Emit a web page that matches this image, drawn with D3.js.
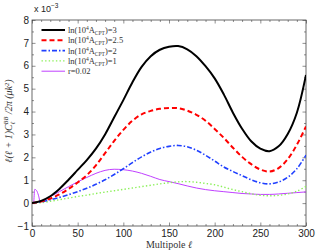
<!DOCTYPE html>
<html>
<head>
<meta charset="utf-8">
<script src="https://cdn.jsdelivr.net/npm/d3@7"></script>
<style>
body { margin: 0; background: #fff; }
.tick text { font-family: "Liberation Sans", Arial, sans-serif; font-size: 10px; fill: #222; }
.tick line { stroke: #444; stroke-width: 0.6; }
.serif { font-family: "Liberation Serif", "DejaVu Serif", serif; fill: #333; }
</style>
</head>
<body>
<div id="body"></div>
<script>
// multipole grid used by the four A_CPT curves
var ell = [0,10,20,30,40,50,60,70,80,90,100,110,120,130,140,150,160,170,180,190,200,210,220,230,240,250,260,270,280,290,300];
var cpt3 = [0,0.1,0.3,0.62,1.02,1.45,1.88,2.38,3.0,3.75,4.5,5.28,5.95,6.42,6.7,6.83,6.86,6.72,6.42,5.98,5.45,4.75,3.95,3.25,2.7,2.38,2.27,2.48,3.02,3.95,5.6];
var cpt25 = [0,0.07,0.2,0.38,0.62,0.9,1.22,1.65,2.18,2.72,3.2,3.6,3.88,4.03,4.12,4.15,4.15,4.04,3.86,3.6,3.24,2.85,2.42,2.02,1.7,1.47,1.38,1.53,1.92,2.55,3.35];
var cpt2 = [0,0.05,0.15,0.25,0.37,0.5,0.65,0.82,1.02,1.25,1.5,1.77,2.02,2.23,2.39,2.48,2.52,2.46,2.31,2.09,1.84,1.58,1.38,1.2,1.02,0.89,0.84,0.92,1.13,1.5,2.1];
var cpt1 = [0,0.02,0.08,0.15,0.22,0.29,0.35,0.42,0.48,0.54,0.6,0.66,0.72,0.78,0.84,0.89,0.93,0.94,0.91,0.86,0.8,0.7,0.59,0.5,0.41,0.34,0.32,0.34,0.4,0.52,0.73];
// tensor modes r=0.02 (with reionization bump at low l)
var rEll = [2,3,5,7,9,12,20,30,40,50,60,70,80,90,100,110,120,130,140,150,160,170,180,190,200,210,220,230,240,250,260,270,280,290,300];
var rVal = [0.05,0.6,0.55,0.35,0.07,0.1,0.28,0.5,0.72,0.93,1.12,1.3,1.43,1.48,1.46,1.4,1.3,1.17,1.03,0.94,0.85,0.75,0.66,0.59,0.54,0.5,0.46,0.42,0.4,0.38,0.38,0.4,0.43,0.46,0.49];

var xTicks = [0,50,100,150,200,250,300];
var yTicks = [-1,0,1,2,3,4,5,6,7,8];
var legendVals = ['3','2.5','2','1'];

var width = 319, height = 251;
var margins = {left: 32, top: 20, right: 13, bottom: 25};

var x = d3.scaleLinear().domain([0, 300]).range([margins.left, width - margins.right]);
var y = d3.scaleLinear().domain([-1, 8]).range([height - margins.bottom, margins.top]);

var svg = d3.select('#body').append('svg')
    .attr('width', width)
    .attr('height', height);

var xMinor = d3.range(0, 301, 10).filter(d => xTicks.indexOf(d) < 0);
var yMinor = d3.range(-1, 8.01, 0.5).filter(d => yTicks.indexOf(d) < 0);

function addAxis(axis, tx, ty) {
    var g = svg.append('g').attr('transform', `translate(${tx},${ty})`).call(axis);
    g.select('.domain').remove();
    return g;
}
var yb = y(-1), yt = y(8), xl = x(0), xr = x(300);

addAxis(d3.axisBottom(x).tickValues(xTicks).tickSize(-3.5).tickPadding(4), 0, yb);
addAxis(d3.axisBottom(x).tickValues(xMinor).tickSize(-2).tickFormat(''), 0, yb);
addAxis(d3.axisTop(x).tickValues(xTicks).tickSize(-3.5).tickFormat(''), 0, yt);
addAxis(d3.axisTop(x).tickValues(xMinor).tickSize(-2).tickFormat(''), 0, yt);
addAxis(d3.axisLeft(y).tickValues(yTicks).tickSize(-3.5).tickPadding(3).tickFormat(d => d < 0 ? '\u2212' + (-d) : d), xl, 0);
addAxis(d3.axisLeft(y).tickValues(yMinor).tickSize(-2).tickFormat(''), xl, 0);
addAxis(d3.axisRight(y).tickValues(yTicks).tickSize(-3.5).tickFormat(''), xr, 0);
addAxis(d3.axisRight(y).tickValues(yMinor).tickSize(-2).tickFormat(''), xr, 0);

svg.append('rect')
    .attr('x', xl).attr('y', yt)
    .attr('width', xr - xl).attr('height', yb - yt)
    .attr('fill', 'none').attr('stroke', '#444').attr('stroke-width', 0.8);

svg.append('defs').append('clipPath').attr('id', 'plot-clip')
    .append('rect').attr('x', xl).attr('y', yt).attr('width', xr - xl).attr('height', yb - yt);

var series = [
    {name: '3', l: ell, v: cpt3, color: '#000000', w: 2, dash: null},
    {name: '2.5', l: ell, v: cpt25, color: '#ff0000', w: 2, dash: '5,3'},
    {name: '2', l: ell, v: cpt2, color: '#2040ff', w: 1.6, dash: '5,2,1.5,2'},
    {name: '1', l: ell, v: cpt1, color: '#8cf05a', w: 1.4, dash: '1.4,2.2'},
    {name: 'r', l: rEll, v: rVal, color: '#c040ff', w: 1, dash: null}
];

var smooth = d3.line()
    .x(d => x(d[0]))
    .y(d => y(d[1]))
    .curve(d3.curveCatmullRom.alpha(0.5));
var mono = d3.line()
    .x(d => x(d[0]))
    .y(d => y(d[1]))
    .curve(d3.curveMonotoneX);

var body = svg.append('g').attr('clip-path', 'url(#plot-clip)');
series.slice().reverse().forEach(s => {
    body.append('path')
        .datum(s.l.map((d, i) => [d, s.v[i]]))
        .attr('d', s.name === 'r' ? mono : smooth)
        .attr('fill', 'none')
        .attr('stroke', s.color)
        .attr('stroke-width', s.w)
        .attr('stroke-dasharray', s.dash);
});

// legend
var legend = svg.append('g');
series.forEach((s, i) => {
    var ly = 30 + i * 10.3;
    legend.append('line')
        .attr('x1', 41.5).attr('x2', 65)
        .attr('y1', ly).attr('y2', ly)
        .attr('stroke', s.color)
        .attr('stroke-width', s.w)
        .attr('stroke-dasharray', s.dash);
    var t = legend.append('text')
        .attr('class', 'serif')
        .attr('x', 68).attr('y', ly + 3)
        .style('font-size', '8.5px');
    if(s.name === 'r') {
        t.text('r=0.02');
    } else {
        t.append('tspan').text('ln(10');
        t.append('tspan').attr('dy', -3).style('font-size', '5.5px').text('4');
        t.append('tspan').attr('dy', 3).text('A');
        t.append('tspan').attr('dy', 2).style('font-size', '5.5px').text('CPT');
        t.append('tspan').attr('dy', -2).text(')=' + legendVals[i]);
    }
});

// exponent label
var ex = svg.append('text')
    .attr('x', 34).attr('y', 12)
    .style('font-family', '"Liberation Sans", Arial, sans-serif')
    .style('font-size', '9px')
    .attr('fill', '#222');
ex.append('tspan').text('x 10');
ex.append('tspan').attr('dy', -4).style('font-size', '6.5px').text('\u22123');

// axis titles
svg.append('text')
    .attr('class', 'serif')
    .attr('x', (xl + xr) / 2).attr('y', 248)
    .attr('text-anchor', 'middle')
    .style('font-size', '10px')
    .html('Multipole <tspan font-style="italic">\u2113</tspan>');

var yl = svg.append('text')
    .attr('class', 'serif')
    .attr('transform', 'translate(12,121) rotate(-90)')
    .attr('text-anchor', 'middle')
    .style('font-size', '10px')
    .style('font-style', 'italic');
yl.append('tspan').text('\u2113(\u2113 + 1)C');
yl.append('tspan').attr('dy', 2.5).style('font-size', '6.5px').text('\u2113');
yl.append('tspan').attr('dx', -3).attr('dy', -7).style('font-size', '6.5px').text('BB');
yl.append('tspan').attr('dy', 4.5).text(' /2\u03c0 (\u03bck');
yl.append('tspan').attr('dy', -3.5).style('font-size', '6.5px').text('2');
yl.append('tspan').attr('dy', 3.5).text(')');
</script>
</body>
</html>
